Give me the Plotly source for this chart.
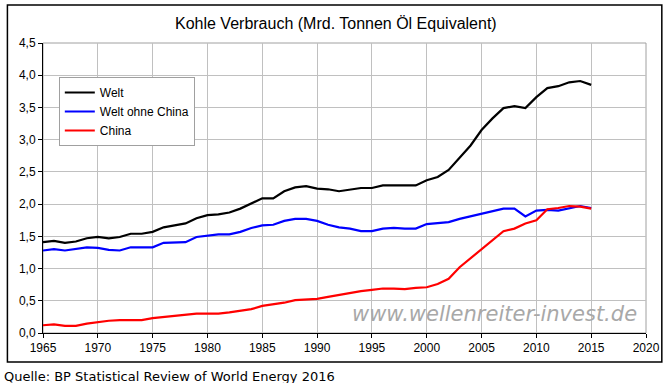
import plotly.graph_objects as go

years = list(range(1965, 2016))
welt = [1.41, 1.43, 1.40, 1.42, 1.47, 1.49, 1.47, 1.49, 1.54, 1.54,
        1.57, 1.64, 1.67, 1.70, 1.78, 1.83, 1.84, 1.87, 1.93, 2.01,
        2.09, 2.09, 2.20, 2.26, 2.28, 2.24, 2.23, 2.20, 2.23, 2.25,
        2.25, 2.29, 2.29, 2.29, 2.29, 2.37, 2.42, 2.53, 2.72, 2.91,
        3.15, 3.33, 3.49, 3.52, 3.49, 3.66, 3.80, 3.83, 3.89, 3.91, 3.85]
welt_ohne_china = [1.28, 1.30, 1.28, 1.30, 1.33, 1.32, 1.29, 1.28, 1.33, 1.33,
                   1.33, 1.40, 1.41, 1.41, 1.49, 1.51, 1.53, 1.53, 1.57, 1.63,
                   1.67, 1.68, 1.74, 1.77, 1.77, 1.74, 1.68, 1.64, 1.62, 1.58,
                   1.58, 1.62, 1.63, 1.62, 1.62, 1.69, 1.70, 1.72, 1.77, 1.81,
                   1.84, 1.89, 1.93, 1.93, 1.81, 1.90, 1.91, 1.90, 1.94, 1.97, 1.94]
china = [0.12, 0.135, 0.11, 0.11, 0.145, 0.17, 0.19, 0.20, 0.20, 0.20,
         0.23, 0.25, 0.26, 0.285, 0.30, 0.30, 0.30, 0.32, 0.35, 0.37,
         0.42, 0.44, 0.47, 0.51, 0.52, 0.53, 0.56, 0.59, 0.63, 0.65,
         0.67, 0.69, 0.69, 0.68, 0.70, 0.71, 0.76, 0.84, 1.02, 1.16,
         1.31, 1.44, 1.58, 1.62, 1.70, 1.75, 1.92, 1.94, 1.97, 1.96, 1.93]

series_names = ["Welt", "Welt ohne China", "China"]
series_colors = ["#000000", "#0000ff", "#ff0000"]
x_ticks = list(range(1965, 2021, 5))
y_ticks = [0, 0.5, 1.0, 1.5, 2.0, 2.5, 3.0, 3.5, 4.0, 4.5]

W, H = 672, 383
L, R, T, B = 43, 19, 43, 50
pw, ph = W - L - R, H - T - B

def px(xp):
    return (xp - L) / pw

def py(yp):
    return (H - B - yp) / ph

fig = go.Figure()
for name, vals, col in zip(series_names, [welt, welt_ohne_china, china], series_colors):
    fig.add_trace(go.Scatter(x=years, y=vals, mode="lines", name=name,
                             line=dict(color=col, width=2.2)))

axis_font = dict(family="Liberation Sans, Arial", size=12, color="#000000")
fig.update_layout(
    width=W, height=H,
    margin=dict(l=L, r=R, t=T, b=B),
    paper_bgcolor="white", plot_bgcolor="white",
    separators=",.",
    showlegend=True,
    legend=dict(x=px(59), y=py(77), xanchor="left", yanchor="top",
                bgcolor="white", bordercolor="#a0a0a0", borderwidth=1,
                font=dict(family="Liberation Sans, Arial", size=12, color="#000"),
                tracegroupgap=0, itemwidth=30),
    xaxis=dict(range=[1965, 2020], tickvals=x_ticks, ticktext=[str(v) for v in x_ticks],
               showgrid=True, gridcolor="#c0c0c0", gridwidth=1,
               showline=True, linecolor="#000", linewidth=1,
               ticks="outside", ticklen=4, tickcolor="#000",
               tickfont=axis_font, zeroline=False),
    yaxis=dict(range=[0, 4.5], tickvals=y_ticks, tickformat=".1f",
               showgrid=True, gridcolor="#c0c0c0", gridwidth=1,
               showline=True, linecolor="#000", linewidth=1,
               ticks="outside", ticklen=4, tickcolor="#000",
               tickfont=axis_font, zeroline=False),
    shapes=[
        dict(type="rect", xref="paper", yref="paper", x0=0, x1=1, y0=0, y1=1,
             line=dict(color="#a0a0a0", width=1), layer="below"),
        dict(type="rect", xref="paper", yref="paper",
             x0=px(7), x1=px(669), y0=py(362), y1=py(5),
             line=dict(color="#000", width=1.5)),
    ],
    annotations=[
        dict(text="Kohle Verbrauch (Mrd. Tonnen Öl Equivalent)", xref="paper", yref="paper",
             x=px(339), y=py(24), xanchor="center", yanchor="middle", showarrow=False,
             font=dict(family="Liberation Sans, Arial", size=16, color="#000")),
        dict(text="www.wellenreiter-invest.de", xref="paper", yref="paper",
             x=px(500), y=py(314), xanchor="center", yanchor="middle", showarrow=False,
             font=dict(family="DejaVu Sans", size=21, color="#a8a8a8", style="italic")),
        dict(text="Quelle: BP Statistical Review of World Energy 2016", xref="paper", yref="paper",
             x=px(2), y=py(376), xanchor="left", yanchor="middle", showarrow=False,
             font=dict(family="DejaVu Sans", size=13, color="#000")),
    ],
)

fig.write_html("out.html", config={"displayModeBar": False},
               post_script="document.body.style.margin='0';document.body.style.overflow='hidden';")
